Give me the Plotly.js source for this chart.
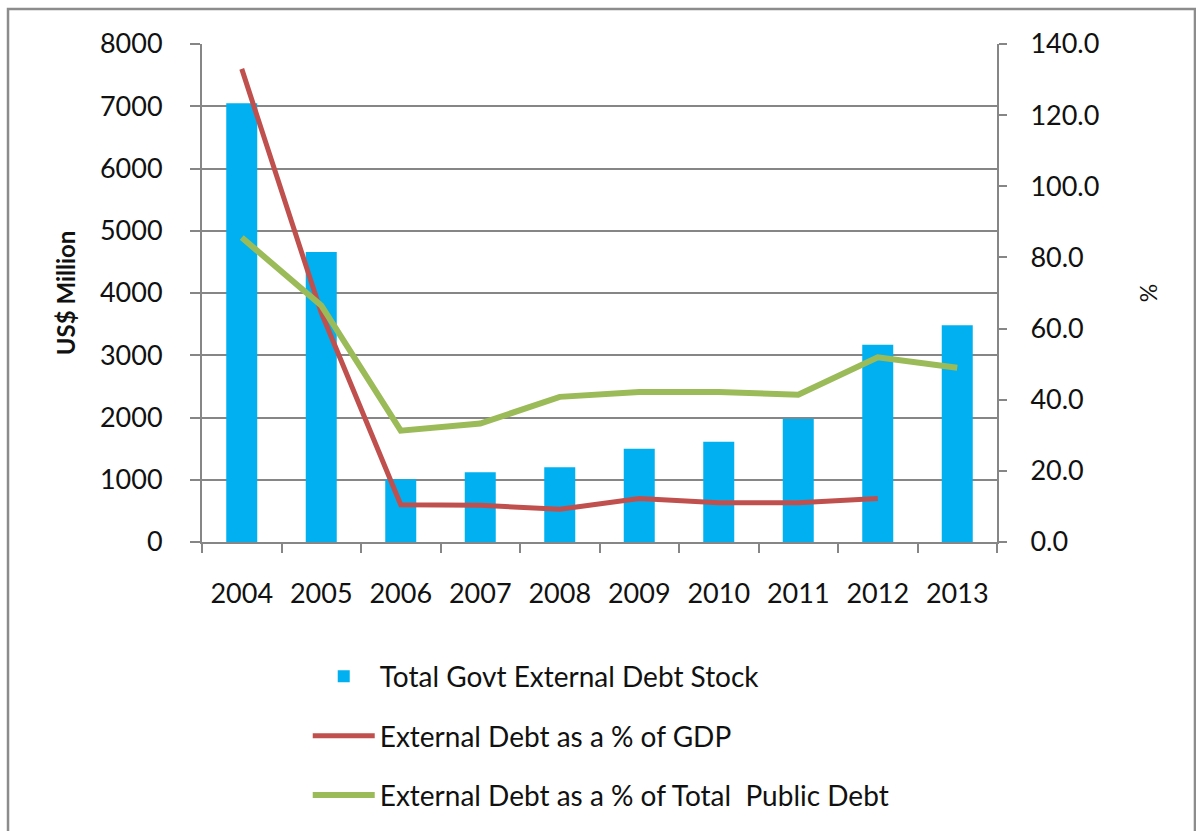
<!DOCTYPE html>
<html>
<head>
<meta charset="utf-8">
<script src="https://cdn.plot.ly/plotly-3.0.1.min.js"></script>
<style>
  html, body { margin: 0; padding: 0; background: #ffffff; }
  #chart { width: 1196px; height: 831px; }
</style>
</head>
<body>
<div id="chart"></div>
<script>
// ---- data ----
const years = ['2004', '2005', '2006', '2007', '2008', '2009', '2010', '2011', '2012', '2013'];
const debtStock = [7050, 4660, 1010, 1120, 1200, 1500, 1610, 1980, 3170, 3480];        // US$ Million
const pctGDP = [133.0, 64.5, 10.5, 10.3, 9.2, 12.2, 11.0, 11.0, 12.2, null];            // %
const pctPublicDebt = [85.6, 66.5, 31.3, 33.3, 40.8, 42.2, 42.2, 41.4, 51.9, 49.0];     // %

const seriesNames = ['Total Govt External Debt Stock', 'External Debt as a % of GDP', 'External Debt as a % of Total  Public Debt'];

const FONT = 'Lato, "Open Sans", "DejaVu Sans", sans-serif';
const GRAY = '#868686';

const traces = [
  {
    type: 'bar', x: years, y: debtStock, name: seriesNames[0],
    marker: { color: '#00B0F0' }, yaxis: 'y', legendgroup: 'a', hoverinfo: 'skip'
  },
  {
    type: 'scatter', mode: 'lines', x: years, y: pctGDP, name: seriesNames[1],
    line: { color: '#C0504D', width: 5 }, yaxis: 'y2', legendgroup: 'b', connectgaps: false, hoverinfo: 'skip'
  },
  {
    type: 'scatter', mode: 'lines', x: years, y: pctPublicDebt, name: seriesNames[2],
    line: { color: '#9BBB59', width: 6 }, yaxis: 'y2', legendgroup: 'c', hoverinfo: 'skip'
  }
];

const layout = {
  width: 1196, height: 831,
  margin: { l: 202, r: 199, t: 44, b: 289, autoexpand: false },
  paper_bgcolor: '#ffffff', plot_bgcolor: '#ffffff',
  font: { family: FONT, size: 26, color: '#111111' },
  bargap: 0.61,
  showlegend: true,
  legend: {
    x: 0.133, xanchor: 'left', y: -0.220, yanchor: 'top',
    orientation: 'v', traceorder: 'grouped', tracegroupgap: 20,
    font: { family: FONT, size: 28, color: '#111111' },
    itemwidth: 62, bgcolor: 'rgba(0,0,0,0)'
  },
  xaxis: {
    type: 'category', tickson: 'boundaries',
    ticks: 'outside', ticklen: 9, tickwidth: 2, tickcolor: GRAY,
    showline: true, linecolor: GRAY, linewidth: 2,
    showgrid: false, zeroline: false,
    ticklabelstandoff: 27,
    tickfont: { family: FONT, size: 27, color: '#111111' },
    fixedrange: true
  },
  yaxis: {
    range: [0, 8000], dtick: 1000, tick0: 0,
    showgrid: true, gridcolor: GRAY, gridwidth: 2,
    showline: true, linecolor: GRAY, linewidth: 2,
    ticks: 'outside', ticklen: 10, tickwidth: 2, tickcolor: GRAY,
    ticklabelstandoff: 22,
    zeroline: false,
    tickfont: { family: FONT, size: 27, color: '#111111' },
    title: { text: 'US$ Million', font: { family: FONT, size: 24, color: '#111111', weight: 'bold' }, standoff: 18 },
    fixedrange: true
  },
  yaxis2: {
    overlaying: 'y', side: 'right',
    range: [0, 140], dtick: 20, tick0: 0, tickformat: '.1f',
    showgrid: false, zeroline: false,
    showline: true, linecolor: GRAY, linewidth: 2,
    ticks: 'outside', ticklen: 8, tickwidth: 2, tickcolor: GRAY,
    ticklabelstandoff: 18,
    tickfont: { family: FONT, size: 27, color: '#111111' },
    title: { text: '%', font: { family: FONT, size: 23, color: '#111111' }, standoff: 42 },
    fixedrange: true
  },
  shapes: [
    {
      type: 'rect', xref: 'paper', yref: 'paper',
      x0: -0.244, x1: 1.249, y0: -0.62, y1: 1.0703,
      line: { color: '#8c8c8c', width: 2.5 }, fillcolor: 'rgba(0,0,0,0)', layer: 'below'
    }
  ]
};

Plotly.newPlot('chart', traces, layout, { displayModeBar: false, staticPlot: true });
</script>
</body>
</html>
